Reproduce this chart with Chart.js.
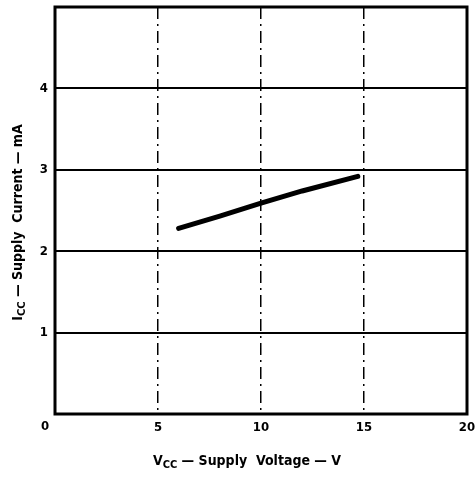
<!DOCTYPE html>
<html>
<head>
<meta charset="utf-8">
<script src="https://cdn.jsdelivr.net/npm/chart.js@4.4.0/dist/chart.umd.min.js"></script>
<style>
  html, body { margin: 0; padding: 0; background: #fff; }
  #wrap { width: 476px; height: 477px; }
</style>
</head>
<body>
<div id="wrap"><canvas id="chart"></canvas></div>
<script>
// Supply current vs supply voltage
const supplyVoltage = [6, 8, 10, 12, 14.7];
const supplyCurrent = [2.28, 2.43, 2.59, 2.74, 2.92];
const xTickValues = [0, 5, 10, 15, 20];
const yTickValues = [0, 1, 2, 3, 4, 5];

const FONT = "'Liberation Sans Narrow', 'DejaVu Sans Condensed', 'Arial Narrow', sans-serif";

// draws text made of parts, some of them subscript, centred on x,y
function drawParts(ctx, parts, x, y, size) {
  const big = `bold ${size}px ${FONT}`;
  const small = `bold ${Math.round(size * 0.78)}px ${FONT}`;
  let total = 0;
  parts.forEach(p => { ctx.font = p.sub ? small : big; total += ctx.measureText(p.t).width; });
  let cx = x - total / 2;
  ctx.textAlign = 'left';
  ctx.textBaseline = 'middle';
  parts.forEach(p => {
    ctx.font = p.sub ? small : big;
    ctx.fillText(p.t, cx, p.sub ? y + size * 0.28 : y);
    cx += ctx.measureText(p.t).width;
  });
}

const framePlugin = {
  id: 'frame',
  afterDatasetsDraw(chart) {
    const { ctx, chartArea: a } = chart;
    ctx.save();
    ctx.strokeStyle = '#000';
    ctx.lineWidth = 3;
    ctx.strokeRect(a.left, a.top, a.right - a.left, a.bottom - a.top);
    ctx.restore();
  },
  afterDraw(chart) {
    const { ctx, chartArea: a } = chart;
    ctx.save();
    ctx.fillStyle = '#000';
    // shared origin label
    ctx.font = `bold 13px ${FONT}`;
    ctx.textAlign = 'center';
    ctx.textBaseline = 'top';
    ctx.fillText('0', a.left - 10, a.bottom + 6);
    // x title
    drawParts(ctx, [{t: 'V'}, {t: 'CC', sub: true}, {t: ' \u2014 Supply  Voltage \u2014 V'}],
      (a.left + a.right) / 2 - 14, a.bottom + 47, 14);
    // y title
    ctx.translate(18, (a.top + a.bottom) / 2 + 12);
    ctx.rotate(-Math.PI / 2);
    drawParts(ctx, [{t: 'I'}, {t: 'CC', sub: true}, {t: ' \u2014 Supply  Current \u2014 mA'}], 0, 0, 14);
    ctx.restore();
  }
};

new Chart(document.getElementById('chart'), {
  type: 'line',
  data: {
    datasets: [{
      data: supplyVoltage.map((v, i) => ({ x: v, y: supplyCurrent[i] })),
      borderColor: '#000',
      borderWidth: 5,
      borderCapStyle: 'round',
      pointRadius: 0,
      pointHoverRadius: 0,
      tension: 0,
      fill: false
    }]
  },
  options: {
    responsive: true,
    maintainAspectRatio: false,
    animation: false,
    devicePixelRatio: 1,
    layout: { autoPadding: false, padding: { top: 7, right: 9, left: 0, bottom: 0 } },
    plugins: { legend: { display: false }, tooltip: { enabled: false } },
    scales: {
      x: {
        type: 'linear', min: 0, max: 20,
        afterBuildTicks: s => { s.ticks = xTickValues.map(v => ({ value: v })); },
        afterFit: s => { s.height = 63; s.paddingLeft = 0; s.paddingRight = 0; },
        ticks: {
          callback: v => v === 0 ? '' : String(v),
          color: '#000', padding: 6, maxRotation: 0,
          font: { family: FONT, size: 13, weight: 'bold' }
        },
        grid: {
          drawTicks: false,
          lineWidth: 1.5,
          color: c => (c.tick && (c.tick.value === 0 || c.tick.value === 20)) ? 'rgba(0,0,0,0)' : '#000'
        },
        border: { display: false, dash: [12, 5, 2, 5] }
      },
      y: {
        type: 'linear', min: 0, max: 5,
        afterBuildTicks: s => { s.ticks = yTickValues.map(v => ({ value: v })); },
        afterFit: s => { s.width = 55; s.paddingTop = 0; s.paddingBottom = 0; },
        ticks: {
          callback: v => (v === 0 || v === 5) ? '' : String(v),
          color: '#000', padding: 7,
          font: { family: FONT, size: 13, weight: 'bold' }
        },
        grid: {
          drawTicks: false,
          lineWidth: 2,
          color: c => (c.tick && (c.tick.value === 0 || c.tick.value === 5)) ? 'rgba(0,0,0,0)' : '#000'
        },
        border: { display: false }
      }
    }
  },
  plugins: [framePlugin]
});
</script>
</body>
</html>
